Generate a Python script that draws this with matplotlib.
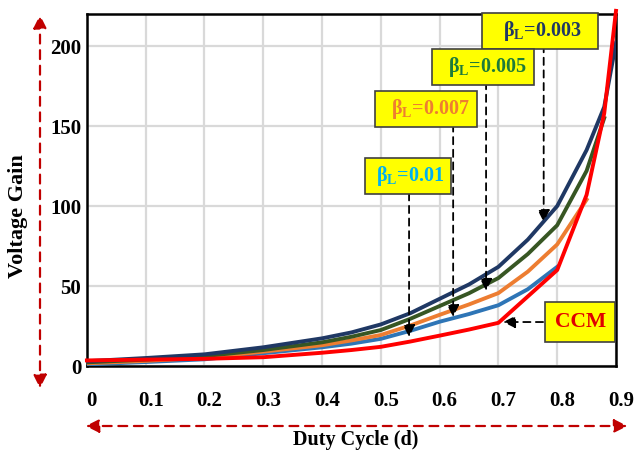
import numpy as np
import matplotlib
matplotlib.use("Agg")
import matplotlib.pyplot as plt
from matplotlib.transforms import ScaledTranslation

plt.rcParams['font.family'] = ['Liberation Serif', 'DejaVu Serif']
plt.rcParams['font.weight'] = 'bold'
plt.rcParams['mathtext.fontset'] = 'custom'
plt.rcParams['mathtext.rm'] = 'Liberation Serif:bold'
plt.rcParams['mathtext.it'] = 'Liberation Serif:bold'
plt.rcParams['mathtext.bf'] = 'Liberation Serif:bold'

# duty cycle points
d_ccm = [0, 0.1, 0.2, 0.3, 0.4, 0.45, 0.5, 0.55, 0.6, 0.65, 0.7, 0.8, 0.85, 0.88, 0.9]
d_003 = [0, 0.1, 0.2, 0.3, 0.4, 0.45, 0.5, 0.55, 0.6, 0.65, 0.7, 0.75, 0.8, 0.85, 0.88, 0.9]
d_005 = [0, 0.1, 0.2, 0.3, 0.4, 0.45, 0.5, 0.55, 0.6, 0.65, 0.7, 0.75, 0.8, 0.85, 0.88]
d_007 = [0, 0.1, 0.2, 0.3, 0.4, 0.45, 0.5, 0.55, 0.6, 0.65, 0.7, 0.75, 0.8, 0.85]
d_01 = [0, 0.1, 0.2, 0.3, 0.4, 0.45, 0.5, 0.55, 0.6, 0.65, 0.7, 0.75, 0.8]

# voltage gain
g_ccm = [3.5, 4, 4.5, 5.5, 8.3, 10, 12, 15.3, 19, 22.8, 27, 60, 107, 158, 222]
g_003 = [3, 5, 7.3, 11.7, 17.3, 21, 26, 33, 42, 51, 62, 79, 100, 135, 162, 202]
g_005 = [2.3, 4, 6.2, 10, 14.8, 18.3, 22.5, 29.5, 37.5, 45.5, 55, 70, 88, 122, 155]
g_007 = [1.7, 3.2, 5.2, 9, 13, 16, 19.4, 25.3, 32, 38.5, 45.6, 59, 76, 104]
g_01 = [1, 2.5, 4.2, 8, 11.7, 14, 17, 22, 27.7, 32.5, 38, 48, 62]

xticks = [0, 0.1, 0.2, 0.3, 0.4, 0.5, 0.6, 0.7, 0.8, 0.9]
yticks = [0, 50, 100, 150, 200]

c_navy = '#1F3864'
c_green = '#375623'
c_orange = '#ED7D31'
c_blue = '#2E75B6'
c_red = '#FF0000'

fig = plt.figure(figsize=(6.39, 4.53), dpi=100)
ax = fig.add_axes([0.136, 0.192, 0.828, 0.777])

lw = 2.8
ax.plot(d_01, g_01, color=c_blue, lw=lw, zorder=3)
ax.plot(d_007, g_007, color=c_orange, lw=lw, zorder=3)
ax.plot(d_005, g_005, color=c_green, lw=lw, zorder=3)
ax.plot(d_003, g_003, color=c_navy, lw=lw, zorder=3)
ax.plot(d_ccm, g_ccm, color=c_red, lw=lw, zorder=4, clip_on=False)

ax.set_xlim(0, 0.9)
ax.set_ylim(0, 220)
ax.set_xticks(xticks)
ax.set_xticklabels(['0' if t == 0 else '%.1f' % t for t in xticks])
ax.set_yticks(yticks)
ax.grid(True, color='#D9D9D9', lw=1.6)
ax.set_axisbelow(True)
ax.tick_params(length=0, labelsize=15)
ax.tick_params(axis='x', pad=18)
ax.tick_params(axis='y', pad=4)
for lab in ax.get_xticklabels():
    lab.set_transform(lab.get_transform() + ScaledTranslation(5 / 100, 0, fig.dpi_scale_trans))
for s in ax.spines.values():
    s.set_linewidth(1.8)
    s.set_color('black')

# labelled boxes with dashed pointers
box = dict(boxstyle='square,pad=0.3', fc='#FFFF00', ec='#404040', lw=1.2)
en = '\u2002'
labels = [
    (en + ' β$_{\\mathrm{L}}$=0.003' + en + ' ', c_navy, (0.771, 209.4), (0.777, 200.6), (0.777, 90)),
    (en + 'β$_{\\mathrm{L}}$=0.005' + en, '#1E7B3A', (0.674, 186.9), (0.679, 177.5), (0.679, 47)),
    (en + 'β$_{\\mathrm{L}}$=0.007' + en, c_orange, (0.577, 160.6), (0.623, 151), (0.623, 30.6)),
    (' β$_{\\mathrm{L}}$=0.01 ', '#00B0F0', (0.546, 118.8), (0.548, 108), (0.548, 18.1)),
]
for txt, col, pos, start, tip in labels:
    ax.annotate('', xy=tip, xytext=start,
                arrowprops=dict(arrowstyle='-|>', linestyle=(0, (4, 3)), color='black',
                                lw=1.3, mutation_scale=18, shrinkA=0, shrinkB=0), zorder=5)
    ax.text(pos[0], pos[1], txt, color=col, fontsize=14.5, fontweight='bold',
            ha='center', va='center', bbox=box, zorder=6, clip_on=False)

ax.annotate('', xy=(0.708, 27.5), xytext=(0.776, 27.5),
            arrowprops=dict(arrowstyle='-|>', linestyle=(0, (4, 3)), color='black',
                            lw=1.3, mutation_scale=18, shrinkA=0, shrinkB=0), zorder=5)
ax.text(0.839, 27.5, 'CCM', color='#E00000', fontsize=15.5, fontweight='bold',
        ha='center', va='center', bbox=dict(boxstyle='square,pad=0.45', fc='#FFFF00', ec='#404040', lw=1.2),
        zorder=6, clip_on=False)

# big red dashed double arrows
red_arrow = dict(arrowstyle='<|-|>', linestyle=(0, (4, 3)), color='#C00000',
                 lw=1.6, mutation_scale=20, shrinkA=0, shrinkB=0)
ax.annotate('', xy=(0.0626, 0.967), xytext=(0.0626, 0.143),
            xycoords='figure fraction', textcoords='figure fraction', arrowprops=red_arrow)
ax.annotate('', xy=(0.134, 0.0596), xytext=(0.982, 0.0596),
            xycoords='figure fraction', textcoords='figure fraction', arrowprops=red_arrow)

fig.text(18 / 639, 1 - 216 / 453, 'Voltage Gain', rotation=90, ha='center', va='center',
         fontsize=16, fontweight='bold')
fig.text(356 / 639, 1 - 440 / 453, 'Duty Cycle (d)', ha='center', va='center',
         fontsize=14.5, fontweight='bold')

fig.savefig('out.png', dpi=100)
